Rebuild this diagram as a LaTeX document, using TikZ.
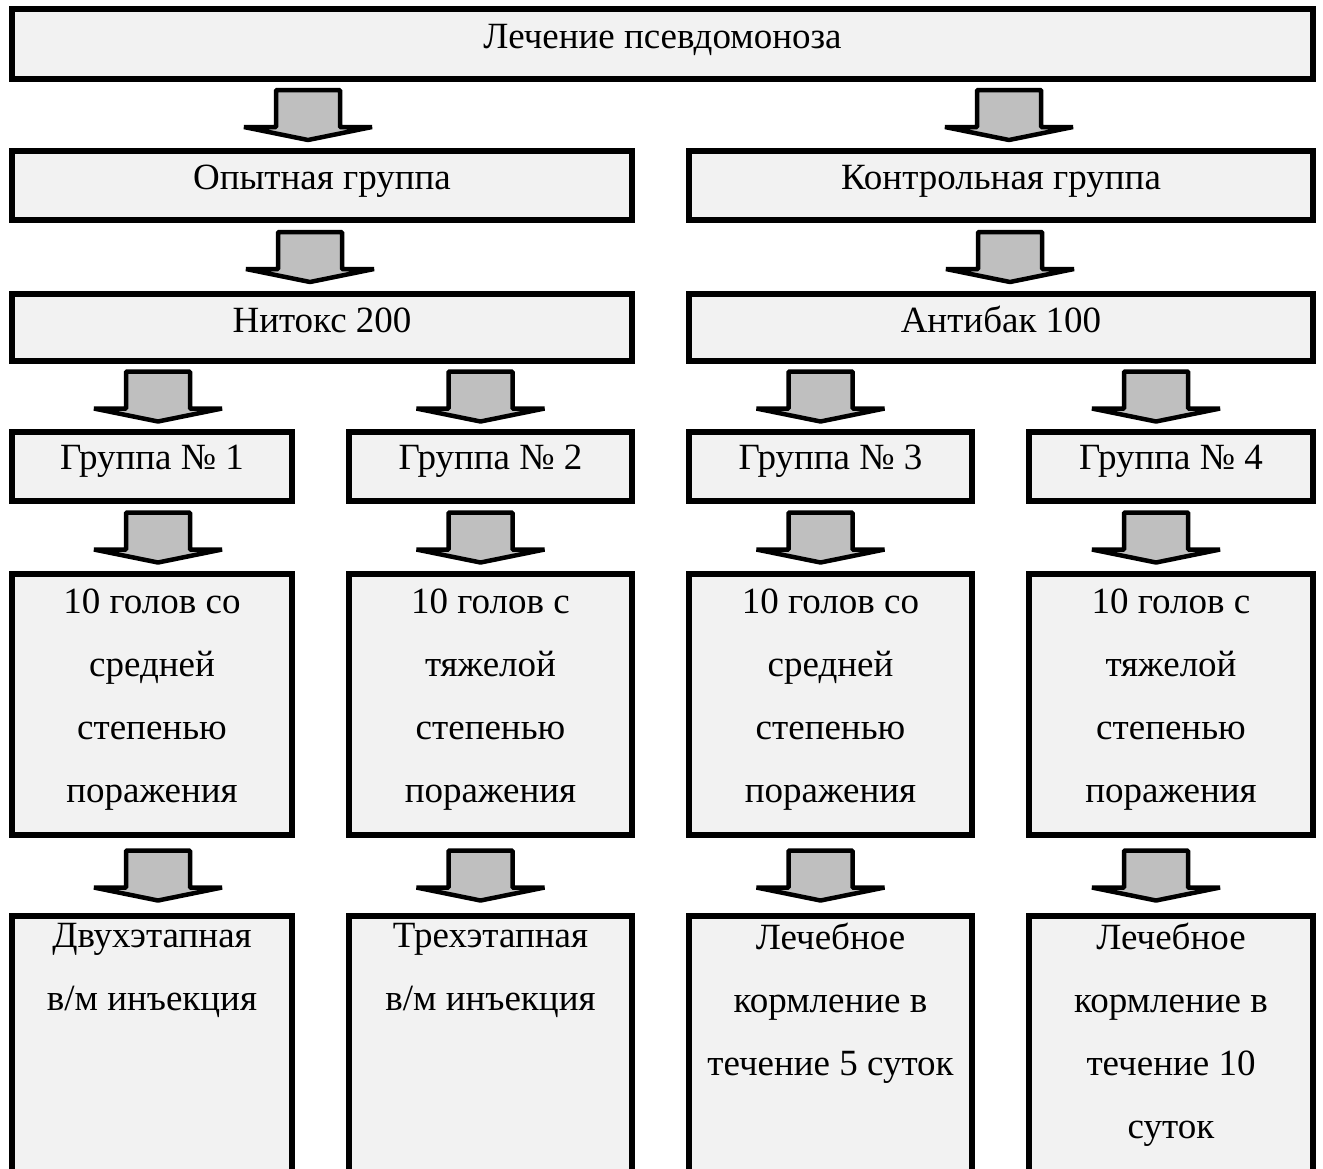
\documentclass[tikz,border=0pt]{standalone}
\usepackage{fontspec}
\setmainfont{Liberation Serif}
\usetikzlibrary{calc}
\definecolor{boxgray}{HTML}{F2F2F2}
\definecolor{arrowgray}{HTML}{BFBFBF}
\tikzstyle{blk} = [rectangle,draw,line width=6pt,fill=boxgray,inner sep=0pt]
\tikzstyle{txt} = [anchor=north,align=center,inner sep=0pt,font=\fontsize{37}{63}\selectfont,execute at begin node={\rule{0pt}{37pt}}]
\tikzstyle{arr} = [draw,line width=4.5pt,line join=bevel,fill=arrowgray]
\newcommand{\grayarrow}[3]{%
	\path let \p1=(#1.south), \p2=(#2.north) in coordinate (m) at (\x2+#3pt,{0.5*\y1+0.5*\y2});
	\draw[arr] (m) ++(-32,-25) -- ++(64,0) -- ++(0,37) -- ++(32,0) -- ++(-64,13) -- ++(-64,-13) -- ++(32,0) -- cycle;
}

\begin{document}
\begin{tikzpicture}[x=1pt,y=-1pt]
	\useasboundingbox (0,0) rectangle (1323,1168);
	
	\node[blk,minimum width=1301pt,minimum height=70pt,label={[txt,yshift=-5pt]north:Лечение псевдомоноза}] (treat) at (662.5,44) {};
	\node[blk,minimum width=620pt,minimum height=69pt,label={[txt,yshift=-4pt]north:Опытная группа}] (exp) at (322,185.5) {};
	\node[blk,minimum width=624pt,minimum height=69pt,label={[txt,yshift=-4pt]north:Контрольная группа}] (ctrl) at (1001,185.5) {};
	\node[blk,minimum width=620pt,minimum height=67pt,label={[txt,yshift=-4pt]north:Нитокс 200}] (nit) at (322,327.5) {};
	\node[blk,minimum width=624pt,minimum height=67pt,label={[txt,yshift=-4pt]north:Антибак 100}] (ant) at (1001,327.5) {};
	
	\node[blk,minimum width=280pt,minimum height=69pt,label={[txt,yshift=-3pt]north:Группа № 1}] (g1) at (152,466.5) {};
	\node[blk,minimum width=283pt,minimum height=69pt,label={[txt,yshift=-3pt]north:Группа № 2}] (g2) at (490.5,466.5) {};
	\node[blk,minimum width=283pt,minimum height=69pt,label={[txt,yshift=-3pt]north:Группа № 3}] (g3) at (830.5,466.5) {};
	\node[blk,minimum width=284pt,minimum height=69pt,label={[txt,yshift=-3pt]north:Группа № 4}] (g4) at (1171,466.5) {};
	
	\node[blk,minimum width=280pt,minimum height=261pt,label={[txt,yshift=-18pt]north:{10 голов со\\средней\\степенью\\поражения}}] (h1) at (152,704.5) {};
	\node[blk,minimum width=283pt,minimum height=261pt,label={[txt,yshift=-18pt]north:{10 голов с\\тяжелой\\степенью\\поражения}}] (h2) at (490.5,704.5) {};
	\node[blk,minimum width=283pt,minimum height=261pt,label={[txt,yshift=-18pt]north:{10 голов со\\средней\\степенью\\поражения}}] (h3) at (830.5,704.5) {};
	\node[blk,minimum width=284pt,minimum height=261pt,label={[txt,yshift=-18pt]north:{10 голов с\\тяжелой\\степенью\\поражения}}] (h4) at (1171,704.5) {};
	
	\node[blk,minimum width=280pt,minimum height=274pt,label={[txt,yshift=-10pt]north:{Двухэтапная\\в/м инъекция}}] (m1) at (152,1053) {};
	\node[blk,minimum width=283pt,minimum height=274pt,label={[txt,yshift=-10pt]north:{Трехэтапная\\в/м инъекция}}] (m2) at (490.5,1053) {};
	\node[blk,minimum width=283pt,minimum height=274pt,label={[txt,yshift=-10pt]north:{Лечебное\\кормление в\\течение 5 суток}}] (m3) at (830.5,1053) {};
	\node[blk,minimum width=284pt,minimum height=274pt,label={[txt,yshift=-10pt]north:{Лечебное\\кормление в\\течение 10\\суток}}] (m4) at (1171,1053) {};
	
	\grayarrow{treat}{exp}{-14}
	\grayarrow{treat}{ctrl}{8}
	\grayarrow{exp}{nit}{-12}
	\grayarrow{ctrl}{ant}{9}
	\grayarrow{nit}{g1}{6}
	\grayarrow{nit}{g2}{-10}
	\grayarrow{ant}{g3}{-10}
	\grayarrow{ant}{g4}{-15}
	\grayarrow{g1}{h1}{6}
	\grayarrow{g2}{h2}{-10}
	\grayarrow{g3}{h3}{-10}
	\grayarrow{g4}{h4}{-15}
	\grayarrow{h1}{m1}{6}
	\grayarrow{h2}{m2}{-10}
	\grayarrow{h3}{m3}{-10}
	\grayarrow{h4}{m4}{-15}
	
\end{tikzpicture}
\end{document}
